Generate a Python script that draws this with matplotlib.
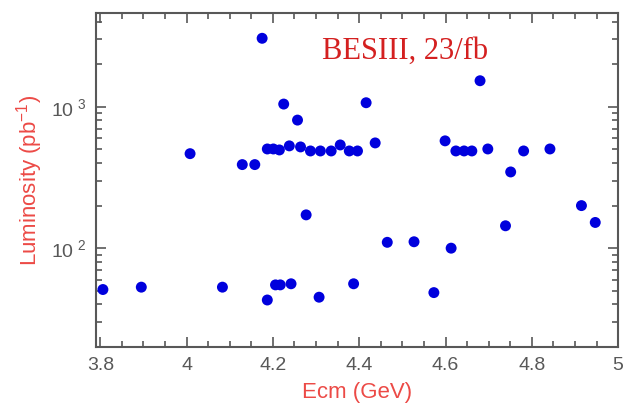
import math
import matplotlib
matplotlib.use("Agg")
import matplotlib.pyplot as plt
from matplotlib.ticker import LogLocator, MultipleLocator, NullFormatter, FixedLocator

# energy points (GeV) and integrated luminosity (pb^-1)
ecm = [3.806, 3.895, 4.008, 4.083, 4.129, 4.158, 4.175, 4.187, 4.187,
       4.201, 4.206, 4.215, 4.217, 4.225, 4.238, 4.242, 4.257, 4.264,
       4.277, 4.287, 4.307, 4.310, 4.335, 4.356, 4.377, 4.387, 4.396,
       4.416, 4.437, 4.465, 4.527, 4.573, 4.599, 4.613, 4.624, 4.643,
       4.661, 4.680, 4.698, 4.739, 4.751, 4.781, 4.842, 4.915, 4.947]
lumi = [51, 53, 466, 53, 390, 390, 3050, 503, 43,
        503, 55, 495, 55, 1045, 529, 56, 805, 520,
        172, 487, 45, 487, 487, 537, 487, 56, 487,
        1068, 555, 110, 111, 48.5, 574, 100, 487, 487,
        487, 1528, 503, 144, 346, 487, 503, 200, 152]

label_red = "#ec4a46"
tick_grey = "#585858"

plt.rcParams["font.family"] = ["Liberation Sans", "DejaVu Sans"]
plt.rcParams["mathtext.default"] = "regular"

fig = plt.figure(figsize=(6.25, 4.08), dpi=100)
ax = fig.add_axes([0.1536, 0.1495, 0.8354, 0.8185])

ax.scatter(ecm, lumi, s=62, color="#0000dd", edgecolors="none", zorder=3)

ax.set_yscale("log")
ax.set_xlim(3.79, 5.0)
ax.set_ylim(20, 4600)

ax.xaxis.set_major_locator(MultipleLocator(0.2))
ax.xaxis.set_minor_locator(MultipleLocator(0.05))
ax.xaxis.set_major_formatter(plt.FuncFormatter(lambda v, p: f"{v:g}"))
ax.yaxis.set_major_locator(FixedLocator([100, 1000]))
ax.yaxis.set_minor_locator(LogLocator(base=10, subs=range(2, 10)))
ax.yaxis.set_minor_formatter(NullFormatter())
ax.yaxis.set_major_formatter(
    plt.FuncFormatter(lambda v, p: "$10^{\\ %d}$" % round(math.log10(v))))

ax.tick_params(which="both", direction="in", top=True, right=True,
               colors=tick_grey, labelsize=14, width=1.2)
ax.tick_params(which="major", length=7, pad=7)
ax.tick_params(which="minor", length=4)
for sp in ax.spines.values():
    sp.set_color(tick_grey)
    sp.set_linewidth(1.5)

ax.set_xlabel("Ecm (GeV)", color=label_red, fontsize=16, labelpad=6)
ax.set_ylabel("Luminosity (pb$^{-1}$)", color=label_red, fontsize=16, labelpad=4)

ax.text(0.433, 0.885, "BESIII, 23/fb", transform=ax.transAxes,
        fontsize=22, color="#d42020", family=["Liberation Serif", "DejaVu Serif"],
        va="center", ha="left")

fig.savefig("out.png", dpi=100)
